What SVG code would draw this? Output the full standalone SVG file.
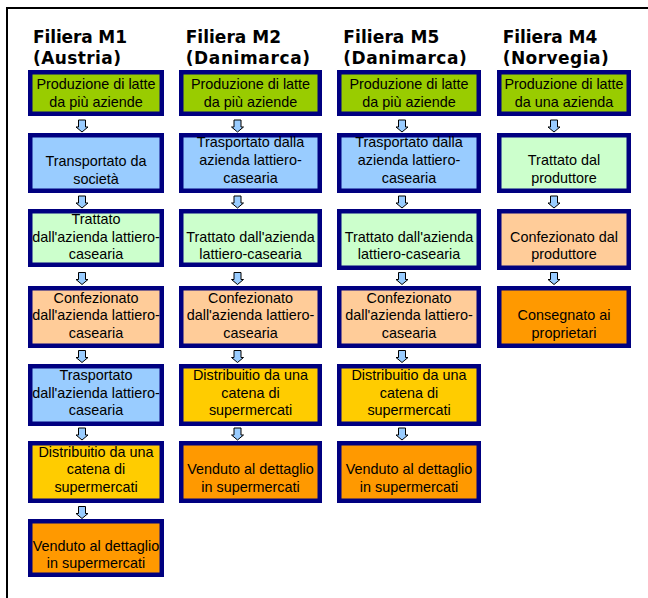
<svg xmlns="http://www.w3.org/2000/svg" xmlns:xlink="http://www.w3.org/1999/xlink" width="648" height="598" viewBox="0 0 648 598">
<style>
  .frame { fill: none; stroke: #000; stroke-width: 2; }
  .hd { font-family: "DejaVu Sans", Verdana, sans-serif; font-weight: bold; font-size: 17px; fill: #000; }
  .box { stroke: #000080; stroke-width: 4.5; }
  .t { font-family: "Liberation Sans", Arial, sans-serif; font-size: 14.4px; fill: #000; text-anchor: middle; }
  .g1 { fill: #99CC00; }
  .bl { fill: #99CCFF; }
  .lg { fill: #CCFFCC; }
  .pe { fill: #FFCC99; }
  .go { fill: #FFCC00; }
  .or { fill: #FF9900; }
  .arr { fill: #99CCFF; stroke: #000; stroke-width: 1; stroke-linejoin: miter; }
</style>
<defs>
  <path id="arrow" class="arr" d="M -3.5 0 H 3.5 V 7 H 6 L 0 12 L -6 7 H -3.5 Z"/>
</defs>
<rect x="0" y="0" width="648" height="598" fill="#fff"/>
<path class="frame" d="M 648 8 H 7 V 598"/>

<g id="headers">
  <text class="hd" x="33" y="42.5" textLength="94" lengthAdjust="spacing">Filiera M1</text>
  <text class="hd" x="33" y="64" textLength="88" lengthAdjust="spacing">(Austria)</text>
  <text class="hd" x="185.7" y="42.5" textLength="95.3" lengthAdjust="spacing">Filiera M2</text>
  <text class="hd" x="185.7" y="64" textLength="124.3" lengthAdjust="spacing">(Danimarca)</text>
  <text class="hd" x="343.3" y="42.5" textLength="96" lengthAdjust="spacing">Filiera M5</text>
  <text class="hd" x="343.3" y="64" textLength="123.4" lengthAdjust="spacing">(Danimarca)</text>
  <text class="hd" x="502.7" y="42.5" textLength="94.6" lengthAdjust="spacing">Filiera M4</text>
  <text class="hd" x="502.7" y="64" textLength="106" lengthAdjust="spacing">(Norvegia)</text>
</g>

<g id="connectors">
  <use xlink:href="#arrow" transform="translate(82,120)"/>
  <use xlink:href="#arrow" transform="translate(82,196)"/>
  <use xlink:href="#arrow" transform="translate(82,272.5)"/>
  <use xlink:href="#arrow" transform="translate(82,350.5)"/>
  <use xlink:href="#arrow" transform="translate(82,428)"/>
  <use xlink:href="#arrow" transform="translate(82,506.5)"/>

  <use xlink:href="#arrow" transform="translate(237.5,120)"/>
  <use xlink:href="#arrow" transform="translate(237.5,196)"/>
  <use xlink:href="#arrow" transform="translate(237.5,272.5)"/>
  <use xlink:href="#arrow" transform="translate(237.5,350.5)"/>
  <use xlink:href="#arrow" transform="translate(237.5,428)"/>

  <use xlink:href="#arrow" transform="translate(402,120)"/>
  <use xlink:href="#arrow" transform="translate(402,196)"/>
  <use xlink:href="#arrow" transform="translate(402,272.5)"/>
  <use xlink:href="#arrow" transform="translate(402,350.5)"/>
  <use xlink:href="#arrow" transform="translate(402,428)"/>

  <use xlink:href="#arrow" transform="translate(554,120)"/>
  <use xlink:href="#arrow" transform="translate(554,196)"/>
  <use xlink:href="#arrow" transform="translate(554,272.5)"/>
</g>

<!-- Column M1 -->
<g id="m1-1"><rect class="box g1" x="30.25" y="72.25" width="131.5" height="41.5"/>
  <text class="t" x="96" y="88.5">Produzione di latte</text><text class="t" x="96" y="106.5">da più aziende</text></g>
<g id="m1-2"><rect class="box bl" x="30.25" y="135.25" width="131.5" height="55.5"/>
  <text class="t" x="96" y="166">Transportato da</text><text class="t" x="96" y="183.5">società</text></g>
<g id="m1-3"><rect class="box lg" x="30.25" y="211.25" width="131.5" height="53.5"/>
  <text class="t" x="96" y="223.5">Trattato</text><text class="t" x="96" y="241.5">dall'azienda lattiero-</text><text class="t" x="96" y="259.3">casearia</text></g>
<g id="m1-4"><rect class="box pe" x="30.25" y="288.25" width="131.5" height="57.5"/>
  <text class="t" x="96" y="302.7">Confezionato</text><text class="t" x="96" y="320.2">dall'azienda lattiero-</text><text class="t" x="96" y="337.7">casearia</text></g>
<g id="m1-5"><rect class="box bl" x="30.25" y="366.25" width="131.5" height="57.5"/>
  <text class="t" x="96" y="380.2">Trasportato</text><text class="t" x="96" y="397.7">dall'azienda lattiero-</text><text class="t" x="96" y="415.2">casearia</text></g>
<g id="m1-6"><rect class="box go" x="30.25" y="443.25" width="131.5" height="57.5"/>
  <text class="t" x="96" y="456.7">Distribuitio da una</text><text class="t" x="96" y="474.4">catena di</text><text class="t" x="96" y="492.2">supermercati</text></g>
<g id="m1-7"><rect class="box or" x="30.25" y="521.25" width="131.5" height="53.5"/>
  <text class="t" x="96" y="551">Venduto al dettaglio</text><text class="t" x="96" y="568.4">in supermercati</text></g>

<!-- Column M2 -->
<g id="m2-1"><rect class="box g1" x="181.25" y="72.25" width="138.5" height="41.5"/>
  <text class="t" x="250.5" y="88.5">Produzione di latte</text><text class="t" x="250.5" y="106.5">da più aziende</text></g>
<g id="m2-2"><rect class="box bl" x="181.25" y="135.25" width="138.5" height="55.5"/>
  <text class="t" x="250.5" y="146.7">Trasportato dalla</text><text class="t" x="250.5" y="165">azienda lattiero-</text><text class="t" x="250.5" y="182.7">casearia</text></g>
<g id="m2-3"><rect class="box lg" x="181.25" y="211.25" width="138.5" height="53.5"/>
  <text class="t" x="250.5" y="241.5">Trattato dall'azienda</text><text class="t" x="250.5" y="259.3">lattiero-casearia</text></g>
<g id="m2-4"><rect class="box pe" x="181.25" y="288.25" width="138.5" height="57.5"/>
  <text class="t" x="250.5" y="302.7">Confezionato</text><text class="t" x="250.5" y="320.2">dall'azienda lattiero-</text><text class="t" x="250.5" y="337.7">casearia</text></g>
<g id="m2-5"><rect class="box go" x="181.25" y="366.25" width="138.5" height="57.5"/>
  <text class="t" x="250.5" y="380.2">Distribuitio da una</text><text class="t" x="250.5" y="397.7">catena di</text><text class="t" x="250.5" y="415.2">supermercati</text></g>
<g id="m2-6"><rect class="box or" x="181.25" y="443.25" width="138.5" height="57.5"/>
  <text class="t" x="250.5" y="474.4">Venduto al dettaglio</text><text class="t" x="250.5" y="492.2">in supermercati</text></g>

<!-- Column M5 -->
<g id="m5-1"><rect class="box g1" x="339.25" y="72.25" width="139.5" height="41.5"/>
  <text class="t" x="409" y="88.5">Produzione di latte</text><text class="t" x="409" y="106.5">da più aziende</text></g>
<g id="m5-2"><rect class="box bl" x="339.25" y="135.25" width="139.5" height="55.5"/>
  <text class="t" x="409" y="146.7">Trasportato dalla</text><text class="t" x="409" y="165">azienda lattiero-</text><text class="t" x="409" y="182.7">casearia</text></g>
<g id="m5-3"><rect class="box lg" x="339.25" y="211.25" width="139.5" height="56.5"/>
  <text class="t" x="409" y="241.5">Trattato dall'azienda</text><text class="t" x="409" y="259.3">lattiero-casearia</text></g>
<g id="m5-4"><rect class="box pe" x="339.25" y="288.25" width="139.5" height="57.5"/>
  <text class="t" x="409" y="302.7">Confezionato</text><text class="t" x="409" y="320.2">dall'azienda lattiero-</text><text class="t" x="409" y="337.7">casearia</text></g>
<g id="m5-5"><rect class="box go" x="339.25" y="366.25" width="139.5" height="57.5"/>
  <text class="t" x="409" y="380.2">Distribuitio da una</text><text class="t" x="409" y="397.7">catena di</text><text class="t" x="409" y="415.2">supermercati</text></g>
<g id="m5-6"><rect class="box or" x="339.25" y="443.25" width="139.5" height="57.5"/>
  <text class="t" x="409" y="474.4">Venduto al dettaglio</text><text class="t" x="409" y="492.2">in supermercati</text></g>

<!-- Column M4 -->
<g id="m4-1"><rect class="box g1" x="499.25" y="72.25" width="129.5" height="41.5"/>
  <text class="t" x="564" y="88.5">Produzione di latte</text><text class="t" x="564" y="106.5">da una azienda</text></g>
<g id="m4-2"><rect class="box lg" x="499.25" y="135.25" width="129.5" height="55.5"/>
  <text class="t" x="564" y="165">Trattato dal</text><text class="t" x="564" y="182.7">produttore</text></g>
<g id="m4-3"><rect class="box pe" x="499.25" y="211.25" width="129.5" height="56.5"/>
  <text class="t" x="564" y="241.5">Confezionato dal</text><text class="t" x="564" y="259.3">produttore</text></g>
<g id="m4-4"><rect class="box or" x="499.25" y="288.25" width="129.5" height="57.5"/>
  <text class="t" x="564" y="320.2">Consegnato ai</text><text class="t" x="564" y="337.7">proprietari</text></g>
</svg>
